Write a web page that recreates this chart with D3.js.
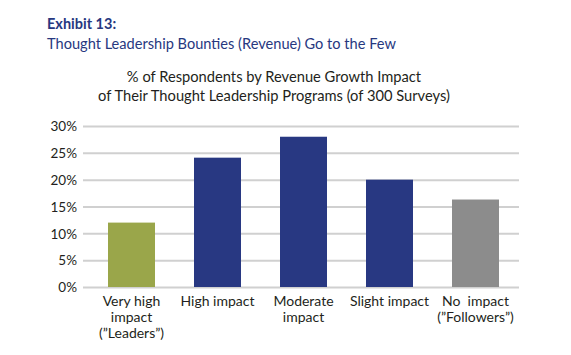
<!DOCTYPE html>
<html><head><meta charset="utf-8">
<script src="https://cdn.jsdelivr.net/npm/d3@7/dist/d3.min.js"></script>
<style>body{margin:0;background:#fff}svg{display:block}text{font-family:"Lato","Open Sans",sans-serif}</style>
</head><body><svg id="c" width="571" height="355"></svg>
<script>
const categories = [["Very high","impact","(\u201dLeaders\u201d)"],["High impact"],["Moderate","impact"],["Slight impact"],["No  impact","(\u201dFollowers\u201d)"]];
const values = [12, 24.1, 28, 20, 16.3];
const colors = ["#9aa64a","#283882","#283882","#283882","#8c8c8c"];
const yTicks = [0,5,10,15,20,25,30];
const titleLines = ["% of Respondents by Revenue Growth Impact","of Their Thought Leadership Programs (of 300 Surveys)"];

const svg = d3.select("#c");
svg.append("text").attr("x",47).attr("y",29).attr("font-size",14.5).attr("font-weight","bold").attr("fill","#27387f").text("Exhibit 13:");
svg.append("text").attr("x",47).attr("y",49).attr("font-size",14.6).attr("fill","#27387f").text("Thought Leadership Bounties (Revenue) Go to the Few");
titleLines.forEach((t,i)=>svg.append("text").attr("x",274).attr("y",82+i*18.5).attr("text-anchor","middle").attr("font-size",14.7).attr("fill","#231f20").text(t));

const y = d3.scaleLinear().domain([0,30]).range([287,126]);
const x = d3.scaleBand().domain(d3.range(categories.length)).range([88.5,518.5]);
const bw = 47;

const yAxis = d3.axisLeft(y).tickValues(yTicks).tickFormat(d=>d+"%").tickSize(-436).tickPadding(6);
const g = svg.append("g").attr("transform","translate(83,0)").call(yAxis);
g.select(".domain").remove();
g.selectAll(".tick line").attr("stroke","#d0d0d0").attr("stroke-width",2);
g.selectAll(".tick text").attr("font-size",13.5).attr("fill","#231f20").attr("dy","0.35em").attr("x",-6);

svg.selectAll("rect.bar").data(values).join("rect").attr("class","bar")
  .attr("x",(d,i)=>x(i)+(x.bandwidth()-bw)/2).attr("width",bw)
  .attr("y",d=>y(d)).attr("height",d=>y(0)-y(d)).attr("fill",(d,i)=>colors[i]);

categories.forEach((lines,i)=>{
  const t = svg.append("text").attr("text-anchor","middle").attr("font-size",14).attr("fill","#231f20").style("white-space","pre");
  lines.forEach((l,j)=>t.append("tspan").attr("x",x(i)+x.bandwidth()/2).attr("y",306+j*16).text(l));
});
</script></body></html>
